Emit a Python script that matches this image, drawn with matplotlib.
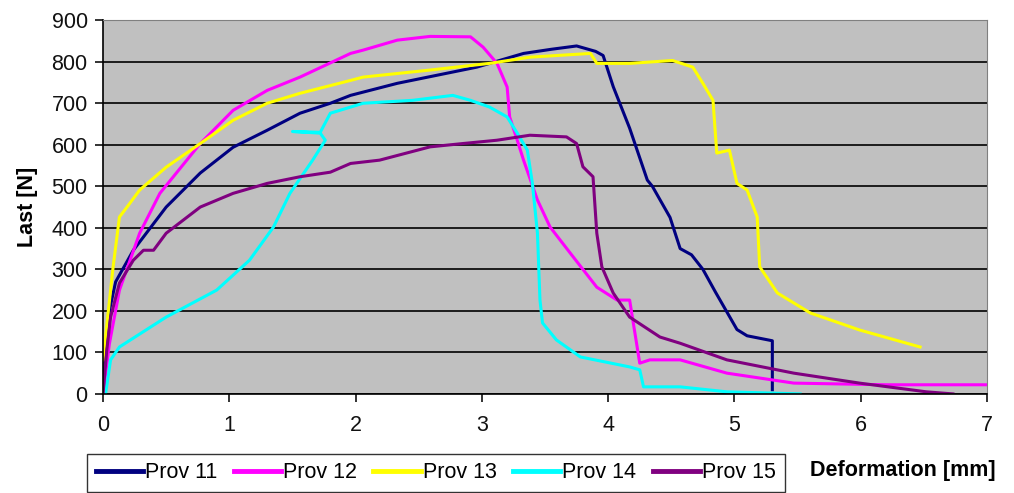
import matplotlib.pyplot as plt

plt.rcParams["font.family"] = ["Liberation Sans", "DejaVu Sans"]

# Prov 11
x11 = [0, 0.02, 0.05, 0.1, 0.24, 0.5, 0.77, 1.03, 1.30, 1.56, 1.80, 1.96, 2.33, 2.96,
       3.33, 3.55, 3.75, 3.9, 3.96, 4.04, 4.17, 4.31, 4.35, 4.49, 4.57, 4.66, 4.75,
       4.85, 5.02, 5.1, 5.3, 5.3]
y11 = [0, 100, 200, 270, 346, 450, 532, 594, 635, 676, 700, 719, 748, 787,
       820, 830, 838, 825, 815, 740, 640, 515, 500, 425, 350, 335, 300,
       245, 155, 140, 128, 10]
# Prov 12
x12 = [0, 0.05, 0.13, 0.29, 0.45, 0.77, 1.03, 1.30, 1.56, 1.96, 2.06, 2.33, 2.59, 2.91,
       3.01, 3.12, 3.2, 3.22, 3.28, 3.33, 3.44, 3.54, 3.70, 3.91, 4.07, 4.17, 4.25,
       4.33, 4.57, 4.94, 5.47, 6.2, 7.0]
y12 = [0, 120, 250, 387, 483, 603, 683, 731, 763, 820, 828, 852, 861, 860,
       835, 796, 739, 667, 611, 563, 467, 402, 339, 257, 226, 226, 74,
       82, 82, 50, 26, 22, 22]
# Prov 13
x13 = [0, 0.08, 0.13, 0.19, 0.29, 0.5, 0.77, 1.03, 1.30, 1.56, 1.96, 2.06, 2.59, 3.06,
       3.38, 3.86, 3.91, 4.17, 4.51, 4.67, 4.75, 4.83, 4.86, 4.96, 5.02, 5.1, 5.18,
       5.20, 5.34, 5.6, 5.99, 6.47]
y13 = [82, 306, 426, 450, 491, 546, 603, 659, 700, 724, 755, 763, 780, 796,
       811, 820, 796, 796, 803, 787, 748, 707, 580, 587, 507, 491, 426,
       306, 243, 195, 154, 113]
# Prov 14
x14 = [0.02, 0.06, 0.13, 0.5, 0.9, 1.16, 1.35, 1.48, 1.66, 1.76, 1.72, 1.5, 1.72, 1.80,
       2.06, 2.45, 2.77, 2.91, 3.06, 3.2, 3.28, 3.36, 3.40, 3.44, 3.46, 3.48, 3.59,
       3.78, 4.17, 4.25, 4.28, 4.57, 4.94, 5.52]
y14 = [0, 82, 113, 185, 250, 322, 402, 483, 563, 611, 628, 632, 630, 676,
       700, 707, 719, 707, 691, 667, 628, 587, 507, 387, 226, 171, 130,
       89, 65, 58, 17, 17, 5, 0]
# Prov 15
x15 = [0, 0.03, 0.06, 0.13, 0.24, 0.32, 0.40, 0.5, 0.77, 1.03, 1.3, 1.56, 1.80, 1.96,
       2.19, 2.59, 2.85, 3.12, 3.38, 3.67, 3.75, 3.8, 3.88, 3.91, 3.95, 4.04, 4.17,
       4.41, 4.57, 4.94, 5.47, 5.99, 6.52, 6.73]
y15 = [0, 106, 185, 267, 322, 346, 346, 387, 450, 483, 507, 523, 534, 555,
       563, 595, 603, 611, 623, 619, 603, 547, 523, 387, 306, 243, 185,
       137, 122, 82, 50, 26, 5, 0]

series = [("Prov 11", x11, y11, "#000080"),
          ("Prov 12", x12, y12, "#ff00ff"),
          ("Prov 13", x13, y13, "#ffff00"),
          ("Prov 14", x14, y14, "#00ffff"),
          ("Prov 15", x15, y15, "#800080")]

fig = plt.figure(figsize=(10.14, 4.93), dpi=100)
ax = fig.add_axes([0.1016, 0.201, 0.8718, 0.758])
ax.set_facecolor("#c0c0c0")

for name, xs, ys, c in series:
    ax.plot(xs, ys, color=c, lw=2.2, label=name)

ax.set_xlim(0, 7)
ax.set_ylim(0, 900)
ax.set_yticks(range(0, 901, 100))
ax.set_xticks(range(0, 8))
ax.grid(axis="y", color="black", lw=1.2)
ax.set_axisbelow(True)
for s in ["top", "right"]:
    ax.spines[s].set_color("#808080")
for s in ["left", "bottom"]:
    ax.spines[s].set_color("black")
    ax.spines[s].set_linewidth(1.2)
ax.tick_params(axis="both", length=6, width=1.2, labelsize=15.5, colors="#111111")
ax.tick_params(axis="x", pad=9)
ax.tick_params(axis="y", pad=5)
ax.set_ylabel("Last [N]", fontsize=15.5, fontweight="bold", labelpad=10)

leg = fig.legend(loc="upper left", bbox_to_anchor=(0.086, 0.08), ncol=5, fontsize=15.5,
                 frameon=True, fancybox=False, edgecolor="black", handlelength=2.2,
                 handletextpad=0.1, columnspacing=0.75, borderpad=0.4, borderaxespad=0)
for h in leg.get_lines():
    h.set_linewidth(3.5)
fig.text(0.89, 0.045, "Deformation [mm]", fontsize=15.5, fontweight="bold",
         ha="center", va="center")

fig.savefig("out.png", dpi=100)
